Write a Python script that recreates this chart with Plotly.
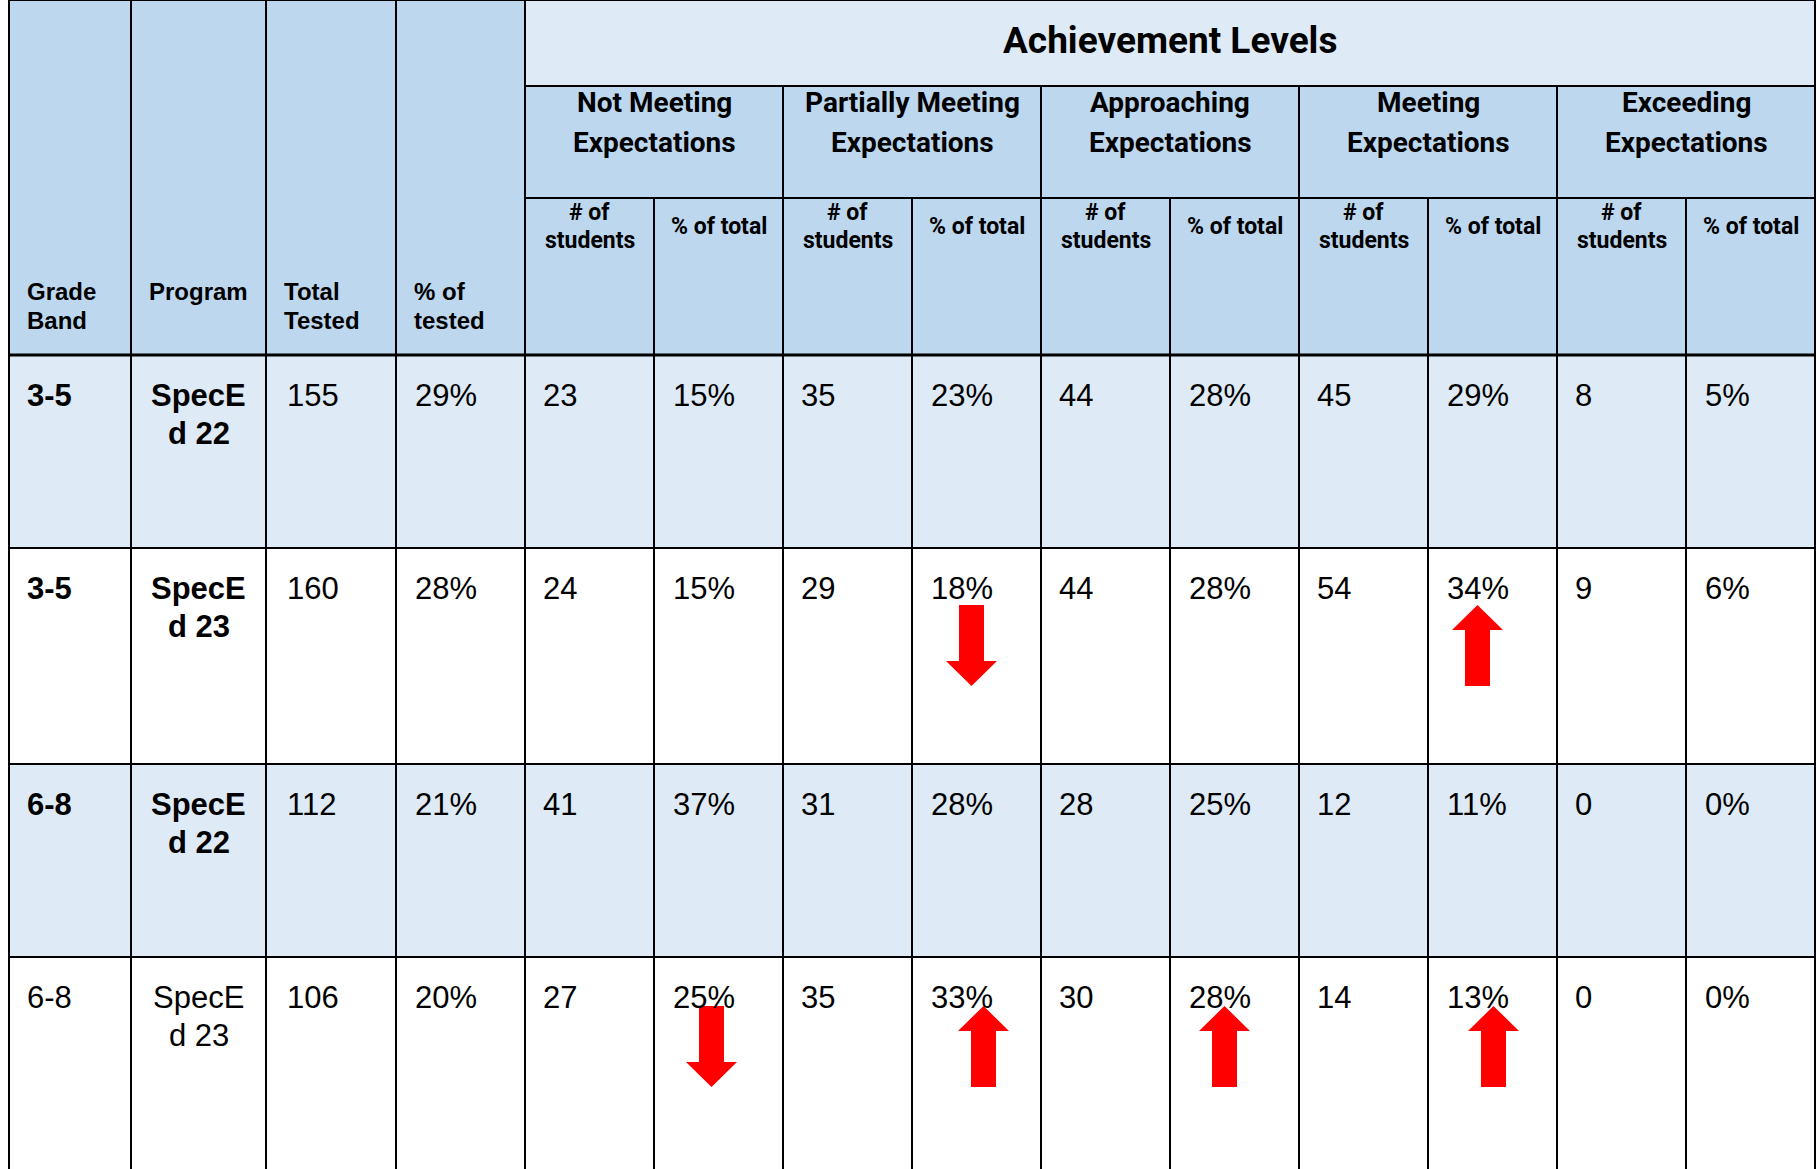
import plotly.graph_objects as go

# ---------------- data ----------------
grade_band = ["3-5", "3-5", "6-8", "6-8"]
program = ["SpecEd 22", "SpecEd 23", "SpecEd 22", "SpecEd 23"]
total_tested = [155, 160, 112, 106]
pct_tested = [29, 28, 21, 20]
level_names = [["Not Meeting", "Expectations"],
               ["Partially Meeting", "Expectations"],
               ["Approaching", "Expectations"],
               ["Meeting", "Expectations"],
               ["Exceeding", "Expectations"]]
level_counts = [[23, 35, 44, 45, 8],
                [24, 29, 44, 54, 9],
                [41, 31, 28, 12, 0],
                [27, 35, 30, 14, 0]]
level_pcts = [[15, 23, 28, 29, 5],
              [15, 18, 28, 34, 6],
              [37, 28, 25, 11, 0],
              [25, 33, 28, 13, 0]]
bold_rows = [True, True, True, False]
left_headers = [["Grade", "Band"], ["Program"], ["Total", "Tested"], ["% of", "tested"]]
top_header = "Achievement Levels"
sub_count_header = ["# of", "students"]
sub_pct_header = "% of total"
# arrows: (row index, level index, direction)
arrows = [(1, 1, "down"), (1, 3, "up"),
          (3, 0, "down"), (3, 1, "up"), (3, 2, "up"), (3, 3, "up")]

# ---------------- layout constants ----------------
W, H = 1817, 1169
X0 = 9
col_w = [122, 135, 130, 129] + [129] * 10
col_x = [X0]
for w in col_w:
    col_x.append(col_x[-1] + w)
Y_TOP = 0
Y_LVL = 86
Y_SUB = 198
Y_HDR = 355
row_h = [193, 216, 193, 216]
row_y = [Y_HDR]
for h in row_h:
    row_y.append(row_y[-1] + h)

HDR_FILL = "#BDD7EE"
LIGHT_FILL = "#DEEAF6"
WHITE = "#FFFFFF"
LINE = "#000000"
ARIAL = "Liberation Sans, Arial, sans-serif"
COND = "Roboto, Lato, sans-serif"
PAD = 17
# hand placement nudges of the arrows (pixels), same order as `arrows`
arrow_nudge = [0, -10, -2, 12, -5, 6]
arrow_dy = {1: 57, 3: 49}
HEAD_H, LEN, HEAD_HW, SHAFT_HW = 25, 81, 25.5, 12.5

shapes = []
ann = []


def rect(x0, y0, x1, y1, fill, lw=2):
    shapes.append(dict(type="rect", xref="x", yref="y", x0=x0, y0=y0, x1=x1, y1=y1,
                       fillcolor=fill, line=dict(color=LINE, width=lw), layer="below"))


def text(x, y, s, size, family, bold=False, xanchor="left", yanchor="middle"):
    ann.append(dict(x=x, y=y, xref="x", yref="y", text=s, showarrow=False,
                    xanchor=xanchor, yanchor=yanchor,
                    font=dict(size=size, family=family, color="black",
                              weight="bold" if bold else "normal")))


# ---- header: left 4 columns (merged over 3 header bands)
for i in range(4):
    rect(col_x[i], Y_TOP, col_x[i + 1], Y_HDR, HDR_FILL)
    for k, ln in enumerate(left_headers[i]):
        yy = 291 + k * 29
        if i == 1:
            text((col_x[i] + col_x[i + 1]) / 2, yy, ln, 24, ARIAL, True, "center")
        else:
            text(col_x[i] + 16, yy, ln, 24, ARIAL, True)

# ---- Achievement Levels header
rect(col_x[4], Y_TOP, col_x[14], Y_LVL, LIGHT_FILL)
text((col_x[4] + col_x[14]) / 2, 40, top_header, 37, COND, True, "center")

# ---- level names + sub headers
for j, names in enumerate(level_names):
    xa = col_x[4 + 2 * j]
    xb = col_x[6 + 2 * j]
    rect(xa, Y_LVL, xb, Y_SUB, HDR_FILL)
    for k, ln in enumerate(names):
        text((xa + xb) / 2, 102 + k * 40.5, ln, 28, COND, True, "center")
    xm = col_x[5 + 2 * j]
    rect(xa, Y_SUB, xm, Y_HDR, HDR_FILL)
    rect(xm, Y_SUB, xb, Y_HDR, HDR_FILL)
    for k, ln in enumerate(sub_count_header):
        text((xa + xm) / 2, 212 + k * 28, ln, 23, COND, True, "center")
    text((xm + xb) / 2, 226, sub_pct_header, 23, COND, True, "center")

# thicker line under header
shapes.append(dict(type="line", xref="x", yref="y", x0=col_x[0], x1=col_x[14],
                   y0=Y_HDR, y1=Y_HDR, line=dict(color=LINE, width=3)))

# ---- data rows
for r in range(len(grade_band)):
    fill = LIGHT_FILL if r % 2 == 0 else WHITE
    y0, y1 = row_y[r], row_y[r + 1]
    for c in range(14):
        rect(col_x[c], y0, col_x[c + 1], y1, fill)
    ty = y0 + 40
    b = bold_rows[r]
    text(col_x[0] + 16, ty, grade_band[r], 31, ARIAL, b)
    prog = program[r]
    for k, ln in enumerate([prog[:5], prog[5:]]):
        text((col_x[1] + col_x[2]) / 2, ty + k * 38, ln, 31, ARIAL, b, "center")
    text(col_x[2] + PAD + 2, ty, str(total_tested[r]), 31, ARIAL)
    text(col_x[3] + PAD, ty, f"{pct_tested[r]}%", 31, ARIAL)
    for j in range(5):
        text(col_x[4 + 2 * j] + PAD - 1, ty, str(level_counts[r][j]), 31, ARIAL)
        text(col_x[5 + 2 * j] + PAD, ty, f"{level_pcts[r][j]}%", 31, ARIAL)

# ---- arrows
for (r, j, d), nud in zip(arrows, arrow_nudge):
    c = 5 + 2 * j
    cx = (col_x[c] + col_x[c + 1]) / 2 - 5 + nud
    t = row_y[r] + arrow_dy[r]
    if d == "up":
        pts = [(cx, t), (cx + HEAD_HW, t + HEAD_H), (cx + SHAFT_HW, t + HEAD_H),
               (cx + SHAFT_HW, t + LEN), (cx - SHAFT_HW, t + LEN),
               (cx - SHAFT_HW, t + HEAD_H), (cx - HEAD_HW, t + HEAD_H)]
    else:
        b2 = t + LEN
        pts = [(cx, b2), (cx + HEAD_HW, b2 - HEAD_H), (cx + SHAFT_HW, b2 - HEAD_H),
               (cx + SHAFT_HW, t), (cx - SHAFT_HW, t),
               (cx - SHAFT_HW, b2 - HEAD_H), (cx - HEAD_HW, b2 - HEAD_H)]
    path = "M " + " L ".join(f"{x},{y}" for x, y in pts) + " Z"
    shapes.append(dict(type="path", xref="x", yref="y", path=path,
                       fillcolor="#FF0000", line=dict(width=0), layer="above"))

fig = go.Figure()
fig.add_trace(go.Scatter(x=[0, W], y=[0, H], mode="markers",
                         marker=dict(opacity=0), hoverinfo="skip", showlegend=False))
fig.update_layout(
    width=W, height=H, autosize=False,
    margin=dict(l=0, r=0, t=0, b=0),
    paper_bgcolor="white", plot_bgcolor="white",
    xaxis=dict(range=[0, W], visible=False, fixedrange=True),
    yaxis=dict(range=[H, 0], visible=False, fixedrange=True),
    shapes=shapes, annotations=ann, showlegend=False,
)
fig.write_html("out.html", config={"displayModeBar": False},
               post_script="document.body.style.margin='0';")
